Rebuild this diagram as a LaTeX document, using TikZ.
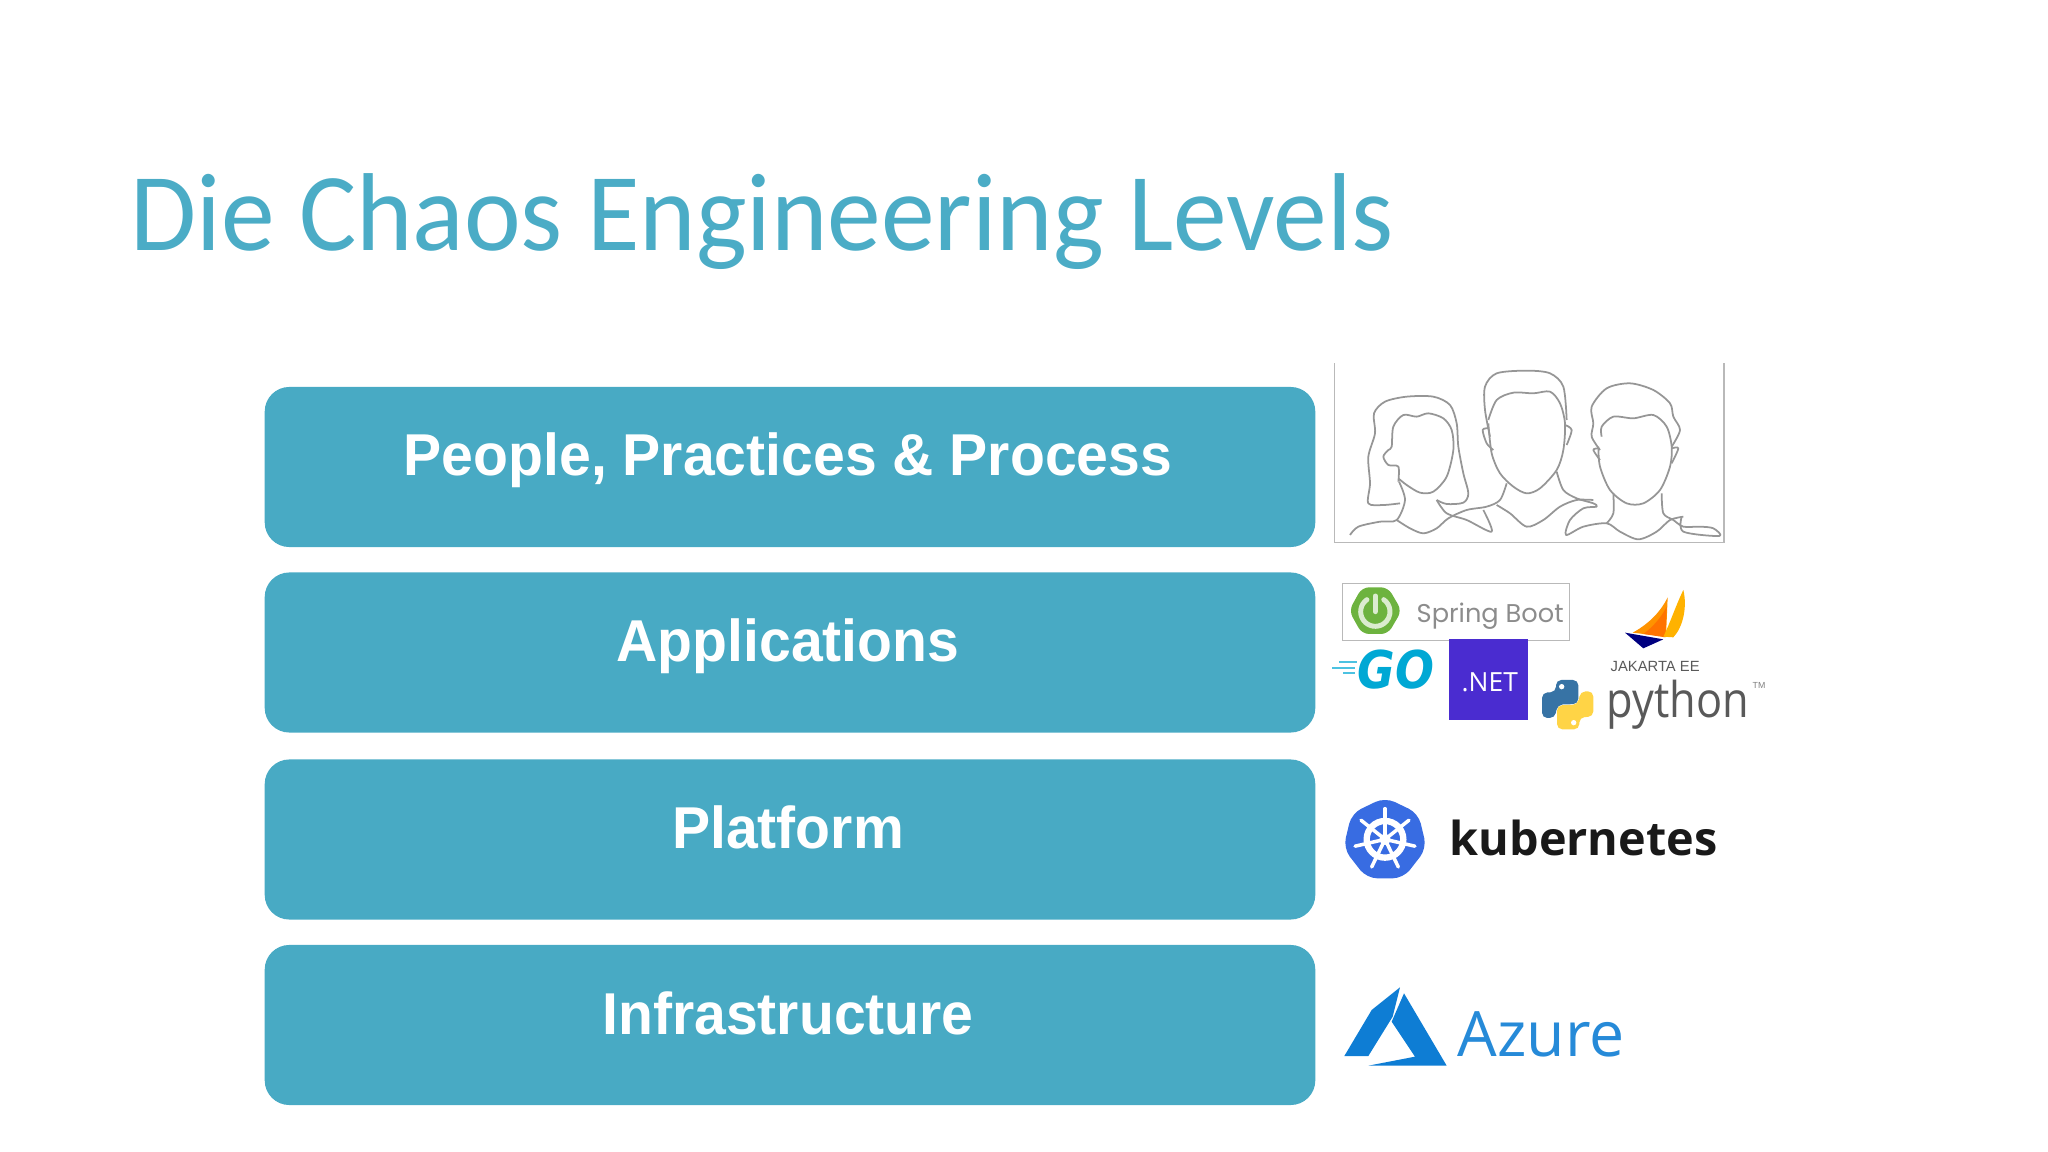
\documentclass[tikz,border=0pt]{standalone}
\usepackage{fontspec}
\usepackage{tikz}
\newfontfamily\titlefont[FakeStretch=0.97]{Carlito}
\newfontfamily\boxfont[FakeStretch=0.967]{Liberation Sans}
\newfontfamily\logofont{Open Sans}
\newfontfamily\pythonfont[FakeStretch=0.88]{Open Sans}
\newfontfamily\springfont{Poppins}
\newfontfamily\gofont[FakeStretch=0.88]{DejaVu Sans}
\newfontfamily\jakartafont{Liberation Sans}
\definecolor{titleblue}{RGB}{75,172,198}
\definecolor{boxblue}{RGB}{72,170,196}
\definecolor{linegrey}{RGB}{150,150,150}
\definecolor{framegrey}{RGB}{185,185,185}
\definecolor{springgreen}{RGB}{109,179,63}
\definecolor{gocyan}{RGB}{0,168,212}
\definecolor{netviolet}{RGB}{74,44,208}
\definecolor{pyblue}{RGB}{55,115,165}
\definecolor{pyyellow}{RGB}{255,212,70}
\definecolor{kubeblue}{RGB}{56,108,226}
\definecolor{azureblue}{RGB}{14,125,212}
\newcommand{\pysnake}{(768,1026) -- (768,990) -- (835,990) -- (835,1062) -- (772,1064) -- (765,1104) -- (726,1104) -- (726,1028) -- cycle}
\tikzset{
  levelbox/.style={rectangle,rounded corners=7pt,fill=boxblue,minimum width=10.5cm,minimum height=1.6cm,inner sep=0pt},
  leveltext/.style={anchor=base,inner sep=0pt,text=white,font=\boxfont\bfseries\fontsize{16.8}{18}\selectfont},
  logotext/.style={anchor=base west,inner sep=0pt},
  sketch/.style={draw=linegrey,line width=0.5pt,line join=round}
}
\begin{document}
\begin{tikzpicture}[x=0.01cm,y=-0.01cm]
  \useasboundingbox (0,0) rectangle (2048,1152);
  \node[logotext,text=titleblue,font=\titlefont\fontsize{31.5}{36}\selectfont] (title) at (130,251) {Die Chaos Engineering Levels};

  \node[levelbox] (people) at (790,467) {};
  \node[levelbox] (applications) at (790,652.5) {};
  \node[levelbox] (platform) at (790,839.5) {};
  \node[levelbox] (infrastructure) at (790,1025) {};
  \node[leveltext] (peopletext) at (788,476) {People, Practices \& Process};
  \node[leveltext] (applicationstext) at (788,662) {Applications};
  \node[leveltext] (platformtext) at (788,848) {Platform};
  \node[leveltext] (infrastructuretext) at (788,1034) {Infrastructure};

  % logo shapes use the coordinates of a 3x crop
  \begin{scope}[shift={(1300,350)},scale=1/3]
    % people
    \draw[framegrey,line width=0.4pt] (103,40) -- (103,577) -- (1272,577) -- (1272,40);
    \draw[sketch] plot[smooth] coordinates {(410,450) (440,462) (490,458) (505,430) (490,370) (475,290) (470,220) (450,165) (400,140) (320,140) (255,155) (222,190) (225,250) (205,320) (210,400) (205,460) (250,465) (300,460)};
    \draw[sketch] plot[smooth] coordinates {(295,395) (295,350) (265,345) (250,320) (265,300) (275,290) (280,230) (310,195) (350,200) (385,190) (430,205) (455,240) (460,300) (440,380) (400,425) (360,428) (320,405) (295,385)};
    \draw[sketch] plot[smooth] coordinates {(150,555) (175,530) (240,515) (290,510) (315,450) (297,395)};
    \draw[sketch] plot[smooth] coordinates {(290,510) (330,535) (370,550) (410,535) (445,505) (500,480) (560,470) (600,450) (620,400)};
    \draw[sketch] plot[smooth] coordinates {(410,450) (440,490) (500,510) (575,545) (550,480)};
    \draw[sketch] plot[smooth] coordinates {(570,260) (555,180) (555,110) (590,70) (680,62) (750,70) (790,110) (800,210)};
    \draw[sketch] plot[smooth] coordinates {(565,210) (590,150) (640,128) (700,130) (750,125) (780,160) (795,220) (790,300) (770,360) (720,415) (680,430) (640,410) (600,370) (575,310) (565,220)};
    \draw[sketch] plot[smooth] coordinates {(565,235) (548,240) (560,280) (580,300)};
    \draw[sketch] plot[smooth] coordinates {(795,225) (815,240) (800,285)};
    \draw[sketch] plot[smooth] coordinates {(590,465) (630,490) (680,530) (730,510) (780,470) (830,450) (880,450)};
    \draw[sketch] plot[smooth] coordinates {(770,365) (790,420) (830,445) (880,460) (890,470) (850,475) (810,510) (798,555) (850,530) (920,520) (960,545) (1015,568) (1070,545) (1110,510) (1150,500)};
    \draw[sketch] plot[smooth] coordinates {(900,300) (875,260) (880,220) (875,170) (920,115) (990,100) (1060,120) (1110,160) (1120,200) (1140,240) (1115,290)};
    \draw[sketch] plot[smooth] coordinates {(905,260) (905,230) (940,200) (1000,205) (1060,195) (1100,230) (1115,290) (1110,350) (1080,420) (1030,460) (980,460) (930,420) (900,350) (895,290)};
    \draw[sketch] plot[smooth] coordinates {(895,295) (880,300) (900,330)};
    \draw[sketch] plot[smooth] coordinates {(1115,295) (1135,295) (1115,340)};
    \draw[sketch] plot[smooth] coordinates {(940,430) (940,490) (920,520)};
    \draw[sketch] plot[smooth] coordinates {(1085,430) (1090,490) (1120,510) (1150,530) (1200,530) (1240,535) (1258,558) (1150,545) (1145,500)};

    % spring boot
    \draw[framegrey,line width=0.4pt] (127,700) rectangle (808,872);
    \fill[springgreen,rounded corners=2pt] (147,782) -- (186,712) -- (264,712) -- (305,782) -- (264,852) -- (186,852) -- cycle;
    \draw[white!75!springgreen,line width=1.4pt,line cap=round] (226,785) ++(-125:44) arc[start angle=-125,end angle=-415,radius=44];
    \draw[white!75!springgreen,line width=1.4pt,line cap=round] (226,738) -- (226,785);

    % go
    \fill[gocyan!70] (118,932) rectangle (172,938);
    \fill[gocyan!70] (96,950) rectangle (165,956);
    \fill[gocyan!70] (130,966) rectangle (165,972);

    % .net
    \fill[netviolet] (447,866) rectangle (685,1110);

    % jakarta
    \fill[orange!85!yellow] (998,848) .. controls (1050,820) and (1085,780) .. (1103,742) -- (1098,860) -- cycle;
    \fill[orange!90!red] (1030,852) .. controls (1060,830) and (1085,800) .. (1100,770) -- (1096,862) -- cycle;
    \fill[orange!60!yellow] (1090,860) .. controls (1110,820) and (1130,760) .. (1150,720) .. controls (1162,770) and (1150,830) .. (1120,862) -- cycle;
    \fill[blue!50!black] (975,848) -- (1090,868) -- (1030,895) -- cycle;

    % python
    \fill[pyblue,rounded corners=1.5pt] \pysnake;
    \fill[white] (785,1010) circle[radius=8];
    \begin{scope}[rotate around={180:(803,1064)}]
      \fill[pyyellow,rounded corners=1.5pt] \pysnake;
      \fill[white] (785,1010) circle[radius=8];
    \end{scope}
  \end{scope}

  \begin{scope}[shift={(1300,760)},scale=1/3]
    % kubernetes
    \fill[kubeblue,rounded corners=3pt] (255,112) -- (355,160) -- (380,265) -- (310,355) -- (200,355) -- (130,265) -- (155,160) -- cycle;
    \draw[white,line width=1.8pt] (255,238) circle[radius=55];
    \fill[white] (255,238) circle[radius=17];
    \fill[kubeblue] (255,238) circle[radius=8];
    \foreach \ang in {-90,-38.6,12.9,64.3,115.7,167.1,218.6}
      \draw[white,line width=1pt,line cap=round] (255,238) -- ++(\ang:92);

    % azure
    \fill[azureblue] (300,682) -- (215,750) -- (133,888) -- (205,888) -- (278,770) -- cycle;
    \fill[azureblue] (312,700) -- (440,917) -- (205,917) -- (345,890) -- (275,785) -- cycle;
  \end{scope}

  \node[logotext,text=black!45,font=\springfont\fontsize{7.3}{8}\selectfont] (springboot) at (1416,623) {Spring Boot};
  \node[logotext,text=gocyan,font=\gofont\bfseries\itshape\fontsize{14.8}{16}\selectfont] (go) at (1357,688) {GO};
  \node[logotext,text=white,font=\logofont\fontsize{7.5}{9}\selectfont] (dotnet) at (1461,691) {.NET};
  \node[logotext,text=black!65,font=\jakartafont\fontsize{4.2}{5}\selectfont] (jakarta) at (1610,672) {JAKARTA EE};
  \node[logotext,text=black!65,font=\pythonfont\fontsize{14}{16}\selectfont] (python) at (1606,717) {python};
  \node[logotext,text=black!50,font=\jakartafont\fontsize{2.5}{3}\selectfont] (trademark) at (1752,688) {TM};
  \node[logotext,text=black!90,font=\logofont\bfseries\fontsize{13.3}{15}\selectfont] (kubernetes) at (1449,855) {kubernetes};
  \node[logotext,text=azureblue!90!white,font=\logofont\fontsize{17.8}{19}\selectfont] (azure) at (1457,1056) {Azure};
\end{tikzpicture}
\end{document}
